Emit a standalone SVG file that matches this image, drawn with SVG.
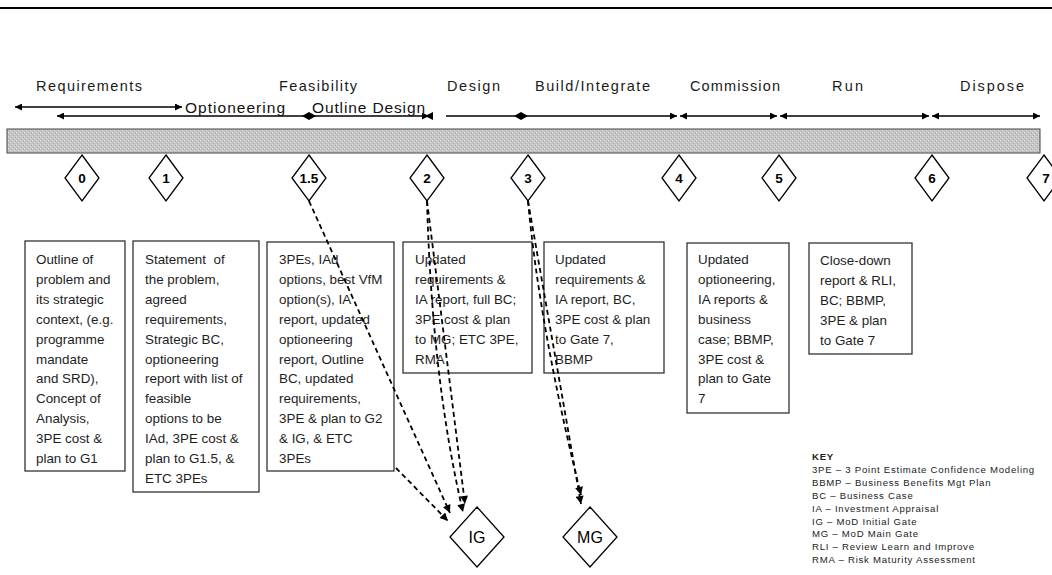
<svg xmlns="http://www.w3.org/2000/svg" width="1052" height="575" viewBox="0 0 1052 575">
<style>
  .ph{font-family:"Liberation Sans",Arial,sans-serif;font-size:14.5px;fill:#1a1a1a}
  .ul{font-family:"Liberation Sans",Arial,sans-serif;font-size:15.5px;fill:#111}
  .tl{stroke:#000;stroke-width:1.6;fill:none}
  .gate{fill:#fff;stroke:#000;stroke-width:1.3}
  .gl{font-family:"Liberation Sans",Arial,sans-serif;font-size:13.5px;font-weight:bold;text-anchor:middle;fill:#000}
  .box{fill:#fff;stroke:#333;stroke-width:1.3}
  .bt{font-family:"Liberation Sans",Arial,sans-serif;font-size:13.4px;fill:#1e1e1e}
  .dash{stroke:#000;stroke-width:1.8;stroke-dasharray:5 3.5;fill:none;marker-end:url(#dah)}
  .key{font-family:"Liberation Sans",Arial,sans-serif;font-size:9.6px;letter-spacing:0.75px;fill:#222}
  .big{font-family:"Liberation Sans",Arial,sans-serif;font-size:16px;text-anchor:middle;fill:#000}
</style>
<defs>
  <marker id="ah" viewBox="0 0 10 10" refX="10" refY="5" markerUnits="userSpaceOnUse" markerWidth="8" markerHeight="7" orient="auto-start-reverse">
    <path d="M0,0 L10,5 L0,10 z" fill="#000"/>
  </marker>
  <marker id="dm" viewBox="0 0 14 8" refX="7" refY="4" markerUnits="userSpaceOnUse" markerWidth="14" markerHeight="8" orient="auto">
    <path d="M0,4 L7,0 L14,4 L7,8 z" fill="#000"/>
  </marker>
  <marker id="dah" viewBox="0 0 10 10" refX="10" refY="5" markerUnits="userSpaceOnUse" markerWidth="10" markerHeight="8" orient="auto">
    <path d="M0,0 L10,5 L0,10 z" fill="#000"/>
  </marker>
  <pattern id="tex" width="4" height="4" patternUnits="userSpaceOnUse">
    <rect width="4" height="4" fill="#c6c6c6"/>
    <rect x="0" y="0" width="1" height="1" fill="#e0e0e0"/>
    <rect x="2" y="2" width="1" height="1" fill="#e0e0e0"/>
    <rect x="1" y="3" width="1" height="1" fill="#a8a8a8"/>
    <rect x="3" y="1" width="1" height="1" fill="#a8a8a8"/>
  </pattern>
</defs>

<!-- top rule -->
<line x1="0" y1="8" x2="1052" y2="8" stroke="#000" stroke-width="1.8"/>

<!-- phase labels -->
<g id="phases">
  <text class="ph" x="36" y="91" textLength="106" lengthAdjust="spacing">Requirements</text>
  <text class="ph" x="279" y="91" textLength="78" lengthAdjust="spacing">Feasibility</text>
  <text class="ph" x="447" y="91" textLength="53" lengthAdjust="spacing">Design</text>
  <text class="ph" x="535" y="91" textLength="115" lengthAdjust="spacing">Build/Integrate</text>
  <text class="ph" x="690" y="91" textLength="90" lengthAdjust="spacing">Commission</text>
  <text class="ph" x="832" y="91" textLength="31" lengthAdjust="spacing">Run</text>
  <text class="ph" x="960" y="91" textLength="64" lengthAdjust="spacing">Dispose</text>
</g>

<!-- timeline arrows -->
<g id="timeline">
  <line class="tl" x1="15" y1="107" x2="182" y2="107" marker-start="url(#ah)" marker-end="url(#ah)"/>
  <line class="tl" x1="57" y1="116" x2="309" y2="116" marker-start="url(#ah)" marker-end="url(#dm)"/>
  <line class="tl" x1="309" y1="116" x2="429" y2="116" marker-end="url(#ah)"/>
  <path d="M433,112 L425,116 L433,120 z" fill="#000"/>
  <line class="tl" x1="446" y1="116" x2="521" y2="116" marker-end="url(#dm)"/>
  <line class="tl" x1="521" y1="116" x2="677" y2="116" marker-end="url(#ah)"/>
  <line class="tl" x1="680" y1="116" x2="777" y2="116" marker-start="url(#ah)" marker-end="url(#ah)"/>
  <line class="tl" x1="780" y1="116" x2="929" y2="116" marker-start="url(#ah)" marker-end="url(#ah)"/>
  <line class="tl" x1="932" y1="116" x2="1040" y2="116" marker-start="url(#ah)" marker-end="url(#ah)"/>
  <text class="ul" x="185" y="113" textLength="100" lengthAdjust="spacing">Optioneering</text>
  <text class="ul" x="312" y="113" textLength="113" lengthAdjust="spacing">Outline Design</text>
</g>

<!-- lifecycle bar -->
<rect id="bar" x="7" y="129" width="1033" height="24" fill="url(#tex)" stroke="#444" stroke-width="1"/>

<!-- gates -->
<g id="gate0"><path class="gate" d="M82,155 L99,178 L82,201 L65,178 z"/><text class="gl" x="82" y="183">0</text></g>
<g id="gate1"><path class="gate" d="M166,155 L183,178 L166,201 L149,178 z"/><text class="gl" x="166" y="183">1</text></g>
<g id="gate1_5"><path class="gate" d="M309,155 L326,178 L309,201 L292,178 z"/><text class="gl" x="309" y="183">1.5</text></g>
<g id="gate2"><path class="gate" d="M427,155 L444,178 L427,201 L410,178 z"/><text class="gl" x="427" y="183">2</text></g>
<g id="gate3"><path class="gate" d="M528,155 L545,178 L528,201 L511,178 z"/><text class="gl" x="528" y="183">3</text></g>
<g id="gate4"><path class="gate" d="M679,155 L696,178 L679,201 L662,178 z"/><text class="gl" x="679" y="183">4</text></g>
<g id="gate5"><path class="gate" d="M779,155 L796,178 L779,201 L762,178 z"/><text class="gl" x="779" y="183">5</text></g>
<g id="gate6"><path class="gate" d="M932,155 L949,178 L932,201 L915,178 z"/><text class="gl" x="932" y="183">6</text></g>
<g id="gate7"><path class="gate" d="M1044,155 L1061,178 L1044,201 L1027,178 z"/><text class="gl" x="1046" y="183">7</text></g>

<!-- deliverable boxes -->
<g id="box0">
  <rect class="box" x="25" y="241" width="100" height="230"/>
  <text class="bt" x="36" y="264">
    <tspan x="36">Outline of</tspan><tspan x="36" dy="19.9">problem and</tspan><tspan x="36" dy="19.9">its strategic</tspan><tspan x="36" dy="19.9">context, (e.g.</tspan><tspan x="36" dy="19.9">programme</tspan><tspan x="36" dy="19.9">mandate</tspan><tspan x="36" dy="19.9">and SRD),</tspan><tspan x="36" dy="19.9">Concept of</tspan><tspan x="36" dy="19.9">Analysis,</tspan><tspan x="36" dy="19.9">3PE cost &amp;</tspan><tspan x="36" dy="19.9">plan to G1</tspan>
  </text>
</g>
<g id="box1">
  <rect class="box" x="133" y="241" width="126" height="251"/>
  <text class="bt" x="145" y="264" xml:space="preserve"><tspan x="145">Statement  of</tspan><tspan x="145" dy="19.9">the problem,</tspan><tspan x="145" dy="19.9">agreed</tspan><tspan x="145" dy="19.9">requirements,</tspan><tspan x="145" dy="19.9">Strategic BC,</tspan><tspan x="145" dy="19.9">optioneering</tspan><tspan x="145" dy="19.9">report with list of</tspan><tspan x="145" dy="19.9">feasible</tspan><tspan x="145" dy="19.9">options to be</tspan><tspan x="145" dy="19.9">IAd, 3PE cost &amp;</tspan><tspan x="145" dy="19.9">plan to G1.5, &amp;</tspan><tspan x="145" dy="19.9">ETC 3PEs</tspan></text>
</g>
<g id="box1_5">
  <rect class="box" x="267" y="242" width="127" height="229"/>
  <text class="bt" x="279" y="264">
    <tspan x="279">3PEs, IAd</tspan><tspan x="279" dy="19.9">options, best VfM</tspan><tspan x="279" dy="19.9">option(s), IA</tspan><tspan x="279" dy="19.9">report, updated</tspan><tspan x="279" dy="19.9">optioneering</tspan><tspan x="279" dy="19.9">report, Outline</tspan><tspan x="279" dy="19.9">BC, updated</tspan><tspan x="279" dy="19.9">requirements,</tspan><tspan x="279" dy="19.9">3PE &amp; plan to G2</tspan><tspan x="279" dy="19.9">&amp; IG, &amp; ETC</tspan><tspan x="279" dy="19.9">3PEs</tspan>
  </text>
</g>
<g id="box2">
  <rect class="box" x="403" y="242" width="129" height="131"/>
  <text class="bt" x="415" y="264">
    <tspan x="415">Updated</tspan><tspan x="415" dy="19.9">requirements &amp;</tspan><tspan x="415" dy="19.9">IA report, full BC;</tspan><tspan x="415" dy="19.9">3PE cost &amp; plan</tspan><tspan x="415" dy="19.9">to MG; ETC 3PE,</tspan><tspan x="415" dy="19.9">RMA</tspan>
  </text>
</g>
<g id="box3">
  <rect class="box" x="544" y="242" width="120" height="131"/>
  <text class="bt" x="555" y="264">
    <tspan x="555">Updated</tspan><tspan x="555" dy="19.9">requirements &amp;</tspan><tspan x="555" dy="19.9">IA report, BC,</tspan><tspan x="555" dy="19.9">3PE cost &amp; plan</tspan><tspan x="555" dy="19.9">to Gate 7,</tspan><tspan x="555" dy="19.9">BBMP</tspan>
  </text>
</g>
<g id="box4">
  <rect class="box" x="687" y="243" width="102" height="170"/>
  <text class="bt" x="698" y="264">
    <tspan x="698">Updated</tspan><tspan x="698" dy="19.9">optioneering,</tspan><tspan x="698" dy="19.9">IA reports &amp;</tspan><tspan x="698" dy="19.9">business</tspan><tspan x="698" dy="19.9">case; BBMP,</tspan><tspan x="698" dy="19.9">3PE cost &amp;</tspan><tspan x="698" dy="19.9">plan to Gate</tspan><tspan x="698" dy="19.9">7</tspan>
  </text>
</g>
<g id="box5">
  <rect class="box" x="809" y="243" width="103" height="111"/>
  <text class="bt" x="820" y="265">
    <tspan x="820">Close-down</tspan><tspan x="820" dy="19.9">report &amp; RLI,</tspan><tspan x="820" dy="19.9">BC; BBMP,</tspan><tspan x="820" dy="19.9">3PE &amp; plan</tspan><tspan x="820" dy="19.9">to Gate 7</tspan>
  </text>
</g>

<!-- MoD gates -->
<g id="IG"><path class="gate" d="M477,507 L504,537 L477,567 L450,537 z"/><text class="big" x="477" y="543">IG</text></g>
<g id="MG"><path class="gate" d="M590,507 L617,537 L590,567 L563,537 z"/><text class="big" x="590" y="543">MG</text></g>

<!-- connectors -->
<g id="connectors">
  <path class="dash" d="M309,201 L450,513"/>
  <path class="dash" d="M396,468 L448,521"/>
  <path class="dash" d="M427,201 Q432,380 463,512"/>
  <path class="dash" d="M427,201 L465,504"/>
  <path class="dash" d="M528,201 L581,504"/>
  <path class="dash" d="M528,201 Q540,330 581,495"/>
</g>

<!-- key -->
<g id="key">
  <text class="key" x="812" y="460" style="font-weight:bold">KEY</text>
  <text class="key" x="812" y="472.9">3PE – 3 Point Estimate Confidence Modeling</text>
  <text class="key" x="812" y="485.8">BBMP – Business Benefits Mgt Plan</text>
  <text class="key" x="812" y="498.7">BC – Business Case</text>
  <text class="key" x="812" y="511.6">IA – Investment Appraisal</text>
  <text class="key" x="812" y="524.5">IG – MoD Initial Gate</text>
  <text class="key" x="812" y="537.4">MG – MoD Main Gate</text>
  <text class="key" x="812" y="550.3">RLI – Review Learn and Improve</text>
  <text class="key" x="812" y="563.2">RMA – Risk Maturity Assessment</text>
</g>
</svg>
